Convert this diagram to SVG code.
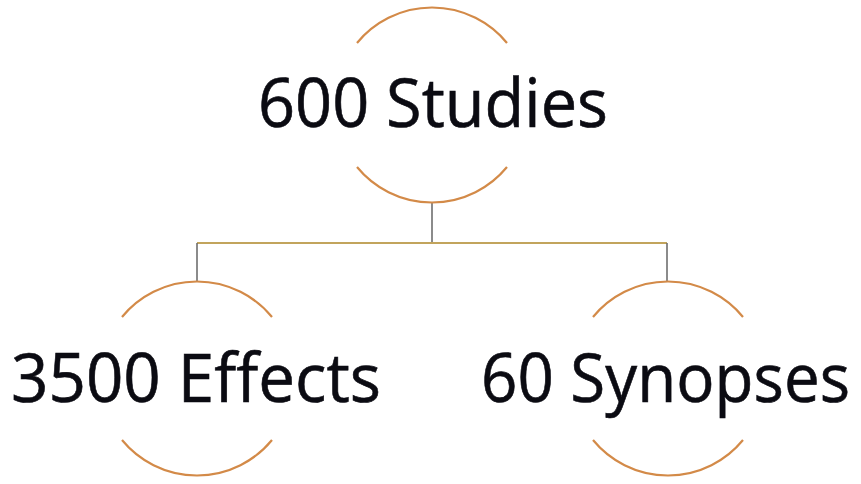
<svg xmlns="http://www.w3.org/2000/svg" width="861" height="484" viewBox="0 0 861 484">
<style>
.arc{fill:none;stroke:#d38a48;stroke-width:2.2}
.lbl{font-family:"Open Sans","Liberation Sans",sans-serif;font-size:67px;fill:#0b0b12;stroke:#0b0b12;stroke-width:0.6}
.h{stroke:#c2a45c;stroke-width:2.2;fill:none}
.v{stroke:#6e6e6e;stroke-width:1.6;fill:none}
</style>
<rect width="861" height="484" fill="#ffffff"/>
<g id="connectors">
<path class="v" d="M432,202 V243"/>
<path class="h" d="M197,243 H667"/>
<path class="v" d="M197,243 V282"/>
<path class="v" d="M667,243 V282"/>
</g>
<g id="node-studies">
<path class="arc" d="M357,43 A97,97 0 0 1 507,43"/>
<path class="arc" d="M357,167 A97,97 0 0 0 507,167"/>
<text class="lbl" x="258" y="127" textLength="350" lengthAdjust="spacingAndGlyphs">600 Studies</text>
</g>
<g id="node-effects">
<path class="arc" d="M122,317 A97,97 0 0 1 272,317"/>
<path class="arc" d="M122,440 A97,97 0 0 0 272,440"/>
<text class="lbl" x="11" y="402" textLength="370" lengthAdjust="spacingAndGlyphs">3500 Effects</text>
</g>
<g id="node-synopses">
<path class="arc" d="M593,317 A97,97 0 0 1 743,317"/>
<path class="arc" d="M593,440 A97,97 0 0 0 743,440"/>
<text class="lbl" x="481" y="402" textLength="369" lengthAdjust="spacingAndGlyphs">60 Synopses</text>
</g>
</svg>
